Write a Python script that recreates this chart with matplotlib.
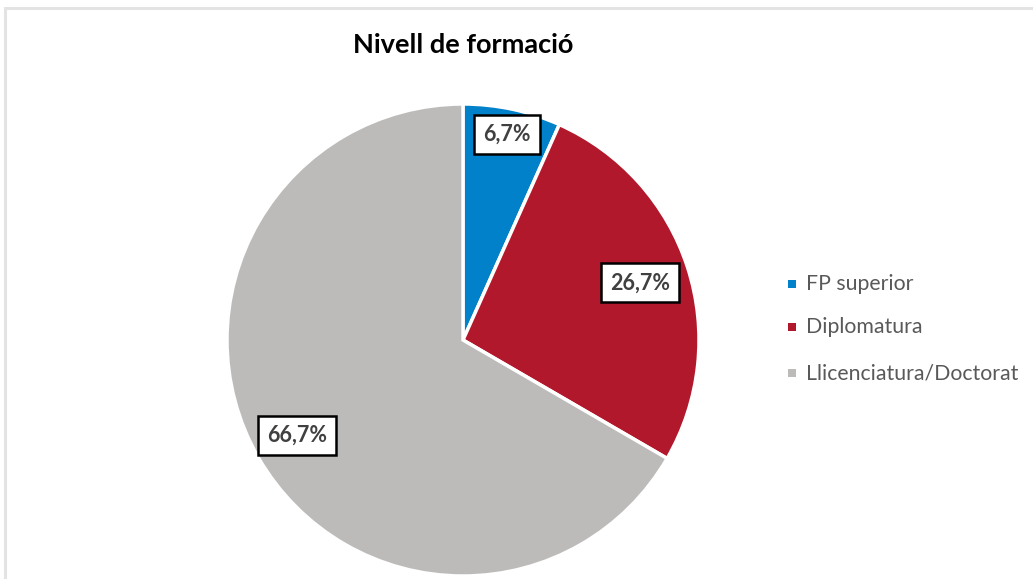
import numpy as np
import matplotlib.pyplot as plt
from matplotlib.patches import Rectangle

# data
categories = ['FP superior', 'Diplomatura', 'Llicenciatura/Doctorat']
values = [6.7, 26.7, 66.7]
labels = ['6,7%', '26,7%', '66,7%']
colors = ['#0081C9', '#B2182B', '#BDBBBA']
label_dist = [0.89, 0.79, 0.81]

plt.rcParams['font.family'] = ['Lato', 'DejaVu Sans']

W, H = 1033, 579
fig = plt.figure(figsize=(W / 100, H / 100), dpi=100)

# light frame around chart area (cut off at right and bottom)
fig.patches.append(Rectangle((5 / W, -0.05), 1.1, 1 - 8 / H + 0.05, transform=fig.transFigure,
                             fill=False, edgecolor='#E3E3E3', linewidth=2.2))

# pie: centre (463, 340), radius 236 px
cx, cy, r = 463, 340, 236
ax = fig.add_axes([(cx - r) / W, 1 - (cy + r) / H, 2 * r / W, 2 * r / H])
wedges, _ = ax.pie(values, colors=colors, startangle=90, counterclock=False,
                   wedgeprops=dict(edgecolor='white', linewidth=2.5))
ax.set_xlim(-1, 1)
ax.set_ylim(-1, 1)
ax.set_aspect('equal')

for w, lab, d in zip(wedges, labels, label_dist):
    ang = np.deg2rad((w.theta1 + w.theta2) / 2)
    ax.text(d * np.cos(ang), d * np.sin(ang), lab, ha='center', va='center',
            fontsize=15.5, fontweight='bold', color='#404040',
            bbox=dict(boxstyle='square,pad=0.42', facecolor='white', edgecolor='black', linewidth=1.8))

fig.text(cx / W, 1 - 45 / H, 'Nivell de formació', ha='center', va='center',
         fontsize=19.5, fontweight='bold', color='black')

# legend
leg_y = [284, 327, 373]
for name, col, y in zip(categories, colors, leg_y):
    fig.patches.append(Rectangle((788 / W, 1 - (y + 4) / H), 8 / W, 8 / H,
                                 transform=fig.transFigure, facecolor=col, edgecolor='none'))
    fig.text(806 / W, 1 - y / H, name, ha='left', va='center', fontsize=15.3, color='#595959')

fig.savefig('out.png', dpi=100)
